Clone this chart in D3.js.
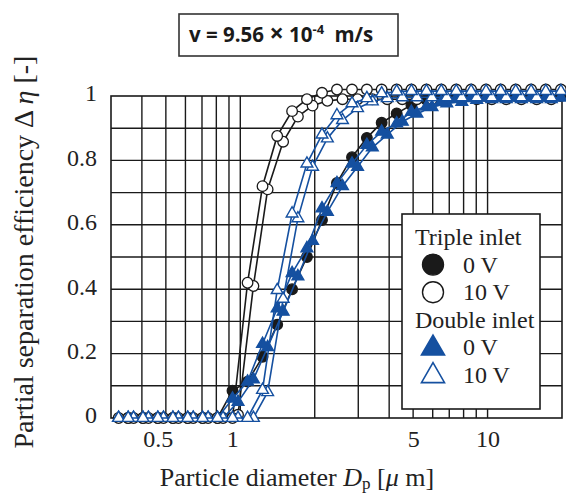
<!DOCTYPE html>
<html lang="en">
<head>
<meta charset="utf-8">
<style>
  body { margin: 0; background: white; }
  svg { background: white; font-family: 'Liberation Serif', 'Times New Roman', serif; }
  .grid line { stroke: #1a1a1a; stroke-width: 1.4; }
  .frame { fill: none; stroke: #1a1a1a; stroke-width: 1.6; }
  .axis path, .axis line { display: none; }
  .title-box rect { fill: white; stroke: #333; stroke-width: 1.6; }
  .title-box text { font-family: 'Open Sans', sans-serif; font-weight: bold; font-size: 20.5px; fill: #1a1a1a; }
  .legend rect { fill: white; stroke: #1a1a1a; stroke-width: 1.6; }
  .legend text { font-size: 24px; fill: #222; }
  .label { font-size: 26px; fill: #222; }
  .label.ylab { font-size: 28px; }
</style>
</head>
<body>
<svg width="566" height="496"></svg>
<script src="https://d3js.org/d3.v7.min.js"></script>
<script>
const width = 566
const height = 496
const margin = { top: 96, right: 4, bottom: 78, left: 111 }

// particle counter channels (two runs, slightly offset)
const dpA = [0.352, 0.404, 0.464, 0.534, 0.613, 0.704, 0.809, 0.930, 1.07, 1.23, 1.41, 1.62, 1.86, 2.14, 2.46,
             2.83, 3.25, 3.73, 4.29, 4.92, 5.66, 6.50, 7.47, 8.58, 9.86, 11.3, 13.0, 15.0, 17.2, 19.8]
const dpB = [0.322, 0.370, 0.425, 0.489, 0.562, 0.645, 0.741, 0.852, 0.979, 1.13, 1.29, 1.49, 1.71, 1.96, 2.25,
             2.59, 2.98, 3.42, 3.93, 4.52, 5.18, 5.96, 6.84, 7.87, 9.04, 10.4, 11.9, 13.7, 15.8, 18.1]

const triple0V = [0, 0, 0, 0, 0, 0, 0, 0.085, 0.113, 0.19, 0.29, 0.40, 0.50, 0.615, 0.73,
                  0.81, 0.87, 0.917, 0.946, 0.972, 0.988, 0.997, 1.0, 1.0, 1.0, 1.0, 1.0, 1.0, 1.0, 1.0]
const triple10V_a = [0, 0, 0, 0, 0, 0, 0, 0, 0.42, 0.72, 0.876, 0.953, 0.99, 1.01, 1.02,
                     1.02, 1.02, 1.02, 1.02, 1.02, 1.02, 1.02, 1.02, 1.02, 1.02, 1.02, 1.02, 1.02, 1.02, 1.02]
const triple10V_b = [0, 0, 0, 0, 0, 0, 0, 0, 0.01, 0.41, 0.71, 0.858, 0.936, 0.97, 0.985,
                     0.99, 0.99, 0.99, 0.99, 0.99, 0.99, 0.99, 0.99, 0.99, 0.99, 0.99, 0.99, 0.99, 0.99, 0.99]
const double0V_a = [0, 0, 0, 0, 0, 0, 0, 0.06, 0.113, 0.23, 0.34, 0.45, 0.527, 0.651, 0.729,
                    0.79, 0.848, 0.889, 0.915, 0.951, 0.967, 0.982, 0.992, 0.993, 0.995, 0.995, 0.995, 0.995, 0.995, 0.995]
const double0V_b = [0, 0, 0, 0, 0, 0, 0, 0, 0.05, 0.12, 0.22, 0.33, 0.44, 0.55, 0.64,
                    0.72, 0.78, 0.84, 0.88, 0.92, 0.945, 0.965, 0.977, 0.982, 0.988, 0.99, 0.99, 0.99, 0.99, 0.99]
const double10V_a = [0, 0, 0, 0, 0, 0, 0, 0, 0, 0.087, 0.397, 0.635, 0.79, 0.88, 0.94,
                     0.977, 0.993, 1.008, 1.014, 1.015, 1.015, 1.015, 1.015, 1.015, 1.015, 1.015, 1.015, 1.015, 1.015, 1.015]
const double10V_b = [0, 0, 0, 0, 0, 0, 0, 0, 0, 0, 0.08, 0.37, 0.62, 0.78, 0.868,
                     0.925, 0.962, 0.983, 0.993, 0.996, 0.996, 0.996, 0.996, 0.996, 0.996, 0.996, 0.996, 0.996, 0.996, 0.996]

const xTicks = [0.5, 1, 5, 10]
const xGrid = [0.4, 0.5, 0.6, 0.7, 0.8, 0.9, 1, 2, 3, 4, 5, 6, 7, 8, 9, 10]
const yTicks = [0, 0.2, 0.4, 0.6, 0.8, 1]
const yGrid = [0.1, 0.2, 0.3, 0.4, 0.5, 0.6, 0.7, 0.8, 0.9]

const black = "#1a1a1a"
const blue = "#1550a0"
const serif = "'Liberation Serif', 'Times New Roman', serif"

const series = [
  { dp: dpA, eff: triple0V, color: black, shape: "circle", filled: true },
  { dp: dpB, eff: triple10V_b, color: black, shape: "circle", filled: false },
  { dp: dpA, eff: triple10V_a, color: black, shape: "circle", filled: false },
  { dp: dpB, eff: double0V_b, color: blue, shape: "triangle", filled: true },
  { dp: dpA, eff: double0V_a, color: blue, shape: "triangle", filled: true },
  { dp: dpB, eff: double10V_b, color: blue, shape: "triangle", filled: false },
  { dp: dpA, eff: double10V_a, color: blue, shape: "triangle", filled: false }
]

const x = d3.scaleLog().domain([0.3, 20]).range([margin.left, width - margin.right])
const y = d3.scaleLinear().domain([0, 1]).range([height - margin.bottom, margin.top])

const svg = d3.select("svg")

// grid
const grid = svg.append("g").attr("class", "grid")
grid.selectAll("line.v").data(xGrid).enter().append("line")
  .attr("x1", d => x(d)).attr("x2", d => x(d))
  .attr("y1", y(0)).attr("y2", y(1))
grid.selectAll("line.h").data(yGrid).enter().append("line")
  .attr("y1", d => y(d)).attr("y2", d => y(d))
  .attr("x1", x.range()[0]).attr("x2", x.range()[1])

svg.append("rect").attr("class", "frame")
  .attr("x", x.range()[0]).attr("y", y(1))
  .attr("width", x.range()[1] - x.range()[0]).attr("height", y(0) - y(1))

// axes (labels only)
const xAxis = d3.axisBottom(x).tickValues(xTicks).tickSize(0).tickPadding(12)
  .tickFormat(d3.format("~g"))
svg.append("g").attr("class", "axis x")
  .attr("transform", "translate(0," + y(0) + ")")
  .call(xAxis)
  .attr("font-family", serif).attr("font-size", 24)
  .selectAll("text")
  .attr("fill", "#222")
  .attr("dx", d => d < 2 ? -8 : 0)   // the small labels sit a bit left of their lines

const yAxis = d3.axisLeft(y).tickValues(yTicks).tickSize(0).tickPadding(14)
  .tickFormat(d3.format("~g"))
svg.append("g").attr("class", "axis y")
  .attr("transform", "translate(" + x.range()[0] + ",0)")
  .call(yAxis)
  .attr("font-family", serif).attr("font-size", 24)
  .selectAll("text").attr("fill", "#222").attr("dy", "0.2em")

// series
const line = d3.line().x(d => x(d[0])).y(d => y(d[1]))
const tri = d3.symbol(d3.symbolTriangle, 60)

series.forEach(s => {
  const pts = s.dp.map((d, i) => [d, s.eff[i]])
  const g = svg.append("g")
  g.append("path").datum(pts)
    .attr("fill", "none").attr("stroke", s.color).attr("stroke-width", 1.6)
    .attr("d", line)
  if (s.shape === "circle") {
    g.selectAll("circle").data(pts).enter().append("circle")
      .attr("cx", d => x(d[0])).attr("cy", d => y(d[1])).attr("r", 5.3)
      .attr("fill", s.filled ? s.color : "white")
      .attr("stroke", s.color).attr("stroke-width", 1.3)
  } else {
    g.selectAll("path.m").data(pts).enter().append("path")
      .attr("class", "m")
      .attr("transform", d => "translate(" + x(d[0]) + "," + y(d[1]) + ")")
      .attr("d", tri)
      .attr("fill", s.filled ? s.color : "white")
      .attr("stroke", s.color).attr("stroke-width", 1.4)
  }
})

// title box
const tb = svg.append("g").attr("class", "title-box")
tb.append("rect").attr("x", 179).attr("y", 14).attr("width", 219).attr("height", 42)
const tt = tb.append("text").attr("x", 189).attr("y", 42)
tt.append("tspan").text("v = 9.56 ")
tt.append("tspan").text("×").attr("font-size", "25px")
tt.append("tspan").text(" 10")
tt.append("tspan").text("-4").attr("font-size", "13px").attr("dy", "-8")
tt.append("tspan").text("  m/s").attr("dy", "8").attr("dx", "5")

// legend
const lg = svg.append("g").attr("class", "legend")
lg.append("rect").attr("x", 402).attr("y", 214).attr("width", 138).attr("height", 195)
const legendRows = [
  { label: "Triple inlet", head: true },
  { label: "0 V", shape: "circle", filled: true, color: black },
  { label: "10 V", shape: "circle", filled: false, color: black },
  { label: "Double inlet", head: true },
  { label: "0 V", shape: "triangle", filled: true, color: blue },
  { label: "10 V", shape: "triangle", filled: false, color: blue }
]
const bigTri = d3.symbol(d3.symbolTriangle, 230)
legendRows.forEach((r, i) => {
  const cy = 237 + i * 27.6
  lg.append("text").attr("x", r.head ? 415 : 463).attr("y", cy + 8).text(r.label)
  if (r.shape === "circle") {
    lg.append("circle").attr("cx", 433).attr("cy", cy).attr("r", 10.5)
      .attr("fill", r.filled ? r.color : "white").attr("stroke", r.color).attr("stroke-width", 1.4)
  } else if (r.shape === "triangle") {
    lg.append("path").attr("transform", "translate(433," + (cy + 1) + ")").attr("d", bigTri)
      .attr("fill", r.filled ? r.color : "white").attr("stroke", r.color).attr("stroke-width", 1.6)
  }
})

// axis titles
const xl = svg.append("text").attr("class", "label").attr("x", 297).attr("y", 486).attr("text-anchor", "middle")
xl.append("tspan").text("Particle diameter ")
xl.append("tspan").text("D").attr("font-style", "italic")
xl.append("tspan").text("p").attr("font-size", "17px").attr("dy", "3")
xl.append("tspan").text(" [").attr("dy", "-3")
xl.append("tspan").text("μ").attr("font-style", "italic")
xl.append("tspan").text(" m]")

const yl = svg.append("text").attr("class", "label ylab")
  .attr("transform", "translate(33,252) rotate(-90)").attr("text-anchor", "middle")
yl.append("tspan").text("Partial separation efficiency   Δ ")
yl.append("tspan").text("η").attr("font-style", "italic")
yl.append("tspan").text("  [-]")
</script>
</body>
</html>
